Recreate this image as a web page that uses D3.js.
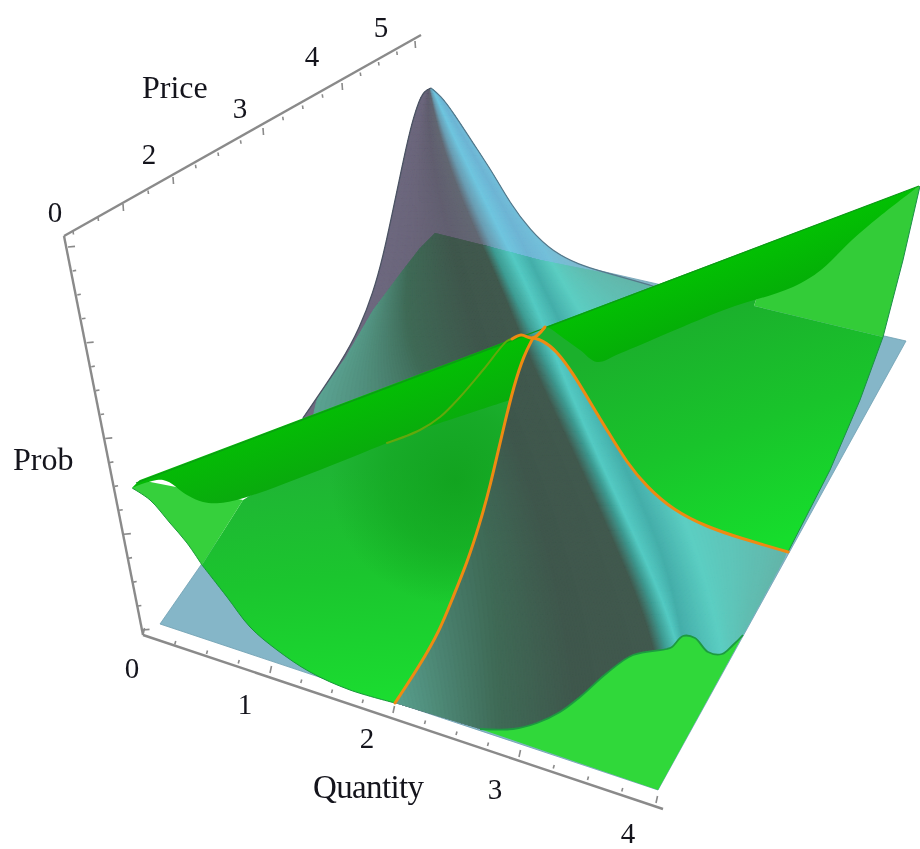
<!DOCTYPE html>
<html>
<head>
<meta charset="utf-8">
<script src="https://cdn.jsdelivr.net/npm/d3@7"></script>
<style>
html,body{margin:0;padding:0;background:#fff}
svg{display:block}
text{font-family:"Liberation Serif","Times New Roman",serif;fill:#14141c}
</style>
</head>
<body>
<div id="chart"></div>
<script>
// ---------- axis data ----------
const quantityTicks = [0,.25,.5,.75,1,1.25,1.5,1.75,2,2.25,2.5,2.75,3,3.25,3.5,3.75,4];
const quantityLabels = [0,1,2,3,4];
const priceTicks = [0,.5,1,1.5,2,2.25,2.5,2.75,3,3.25,3.5,3.75,4,4.25,4.5,4.75,5];
const priceLabels = [0,2,3,4,5];
const probTicks = [0,1,2,3,4,5,6,7,8,9,10,11,12,13,14,15,16];

// ---------- surface data ----------
// Every point is [quantity, prob] on the picture plane: quantity runs along the
// view's horizontal, prob along its vertical (the price shear is folded in).

// price surface mesh: one row per column line, crossing the ridge from left to right
const quantityGrid = [
 [2.24,2.112,2.0,1.912,1.792,1.568,1.248,1.576,1.896,1.992],
 [2.28,2.2,2.168,2.152,2.096,2.136,2.616,2.76,2.816,2.856],
 [2.288,2.28,2.36,2.456,2.576,2.696,3.016,3.256,3.416,3.496],
 [2.296,2.36,2.52,2.696,2.896,3.096,3.44,3.8,4.096,4.216],
 [2.304,2.4,2.592,2.776,2.968,3.224,3.552,3.912,4.2,4.296],
 [2.32,2.464,2.696,2.896,3.112,3.312,3.616,3.992,4.296,4.416],
 [2.344,2.536,2.808,3.032,3.232,3.496,3.792,4.176,4.328,4.456],
 [2.368,2.592,2.88,3.176,3.416,3.736,4.096,4.432,4.632,4.736],
 [2.408,2.68,2.976,3.304,3.688,4.096,5.256,5.256,4.856,4.856]
];
const commonProbRow = [1.3675,1.2625,1.1125,.9875,.85,.6875,.4625,.2125,-.0125,-.25];
const probGrid = [
 [1.3725,1.2625,1.1125,.9875,.85,.6875,.5425,.1875,-.0875,-.1825],
 commonProbRow, commonProbRow, commonProbRow, commonProbRow, commonProbRow, commonProbRow, commonProbRow,
 [1.3625,1.2375,1.0875,.9675,.9175,.8825,.6875,.2375,-.0125,-.25]
];
const ridgeColors  = ["#6e6980","#6b667b","#625f70","#636873","#6b9db2","#70c6df","#6fb5d4","#74c0da","#80b8cc"];
const tintedColors = ["#5aa392","#3f6a56","#3f574c","#41594e","#3f9c93","#55cbc3","#45aeaa","#5ccec2","#63b5a9"];

const silhouetteLeft = [[2.304,1.3675],[2.248,1.36],[2.2,1.33],[2.136,1.2625],[2.072,1.17],[2.0,1.0625],[1.92,.945],[1.84,.855],[1.736,.77],[1.6,.6875],[1.28,.5425]];
const silhouetteRight = [[2.304,1.3675],[2.376,1.35],[2.48,1.3075],[2.64,1.23],[2.8,1.155],[2.936,1.08],[3.096,1.0125],[3.28,.9575],[3.496,.925],[3.656,.91],[4.056,.875],[4.456,.8375]];
const silhouetteBase = [[1.28,.5425],[2.016,-.17],[2.696,-.235],[3.016,-.25],[4.296,-.25],[4.8,0],[5.16,.2075],[4.456,.8375]];

const floorSheet = [[.136,.0275],[1.28,.5425],[2.336,1.005],[6.104,.735],[4.12,-.3875]];
const tintRegion = [[2.336,1.005],[2.72,.975],[3.176,.9375],[3.656,.9075],[4.096,.875],[6.104,.735],[4.12,-.3875],[1.256,-.4125],[1.28,.5425],[1.616,.6925],[1.84,.8125],[2.08,.9125],[2.216,.9675]];

// demand surface (green)
const greenBottomEdge = [[.472,.175],[.672,.095],[.856,.02],[1.072,-.0375],[1.336,-.0925],[1.656,-.1375],[2.016,-.17]];
const orangeLeft = [[2.016,-.17],[2.216,-.075],[2.376,.0125],[2.48,.095],[2.592,.18],[2.696,.28],[2.776,.37],[2.88,.5125],[2.968,.625],[3.048,.7],[3.12,.7425]];
const orangeRight = [[3.12,.7425],[3.192,.7375],[3.304,.7125],[3.44,.655],[3.6,.57],[3.712,.5125],[3.872,.43],[4.032,.37],[4.24,.3125],[4.512,.27],[4.776,.2425],[5.16,.2075]];
const orangeApex = [[2.952,.74],[3.024,.75],[3.12,.7425],[3.216,.77]];
const orangeFaint = [[2.952,.74],[2.912,.735],[2.72,.6625],[2.536,.595],[2.376,.545],[2.216,.5125],[1.952,.48]];
const sectorLeftTop = [[3.12,.7425],[2.912,.735],[.8,.3375]];
const flapLeftEdge = [[-.088,.3675],[.056,.3375],[.216,.28],[.352,.23],[.472,.175]];
const flapLeftClose = [[.8,.3375],[-.024,.3875]];
const bandLeftTop = [[-.088,.3675],[-.024,.3875],[2.912,.735],[3.024,.75],[3.12,.7425],[3.048,.7],[2.936,.5875]];
const bandLeftLower = [[2.936,.5875],[2.216,.5125],[1.952,.48],[1.416,.4125],[.832,.345],[.616,.33],[.48,.3325],[.352,.35],[.16,.3875],[-.088,.3675]];
const greenRightEdge = [[5.16,.2075],[5.496,.4125],[5.736,.5875],[5.92,.745],[6.08,.9375],[6.216,1.1225]];
const flapRightFold = [4.888,.8225];
const bandRightLower = [[3.216,.77],[3.248,.7675],[3.384,.7375],[3.496,.7125],[3.632,.6825],[3.824,.705],[4.648,.8125],[5.2,.87],[5.424,.9125],[5.672,.9875],[5.888,1.045],[6.208,1.1225]];
const sectorUnderBand = [[5.0,.93],[3.9,.8],[3.4,.76],[3.216,.77]];
const flapUnderBand = [[5.0,.93],[5.6,1.0],[6.208,1.1225]];
const ridgeLine = [[-.056,.38],[6.208,1.1225]];
const lowerCurve = [[2.696,-.235],[2.96,-.235],[3.152,-.22],[3.336,-.1925],[3.496,-.155],[3.712,-.095],[3.92,-.05],[4.192,-.035],[4.232,-.03],[4.32,-.0025],[4.416,-.0075],[4.52,-.0425],[4.632,-.0475],[4.72,-.025],[4.8,0]];
const lowerCorner = [4.12,-.3875];

// ---------- scales ----------
const W = 920, H = 849;
const xView = d3.scaleLinear([0,4],[143,643]);
const yView = d3.scaleLinear([0,1],[635,235]);
const pt = ([q,p]) => [xView(q), yView(p)];

const qAxisX = d3.scaleLinear([0,1,2,3,4,4.05],[143,270,393,519,656,663]);
const qAxisY = d3.scaleLinear([0,1,2,3,4,4.05],[635,673,713,757,803,809]);
const pAxisX = d3.scaleLinear([-.2,0,2,3,4,5,5.08],[64,73,173,263,342,415,421]);
const pAxisY = d3.scaleLinear([-.2,0,2,3,4,5,5.08],[236,231,177,128,83,41,35]);
const zAxisX = d3.scaleLinear([-.2,0,16,16.45],[143,142.5,68,64]);
const zAxisY = d3.scaleLinear([-.2,0,16,16.45],[635,630,247,236]);

const svg = d3.select("#chart").append("svg").attr("width",W).attr("height",H).attr("viewBox",[0,0,W,H]);
const defs = svg.append("defs");
defs.append("filter").attr("id","soft").attr("x",0).attr("y",0).attr("width",1).attr("height",1)
  .attr("filterUnits","objectBoundingBox").attr("color-interpolation-filters","sRGB")
  .append("feGaussianBlur").attr("stdDeviation",.7);

function grad(id,x1,y1,x2,y2,stops){
  const g = defs.append("linearGradient").attr("id",id).attr("gradientUnits","userSpaceOnUse")
    .attr("x1",x1).attr("y1",y1).attr("x2",x2).attr("y2",y2);
  stops.forEach(([o,c])=>g.append("stop").attr("offset",o).attr("stop-color",c));
}
grad("gLeft",370,700,345,470,[[0,"#1bdc30"],[.55,"#1bc52e"],[1,"#1fb534"]]);
grad("gRight",770,545,690,320,[[0,"#16dd2c"],[.5,"#19c42b"],[1,"#1bb02c"]]);
grad("gBand",470,345,495,420,[[0,"#02c202"],[1,"#0aa80e"]]);
grad("gBandR",690,265,712,325,[[0,"#02c202"],[1,"#05ac08"]]);
const rg = defs.append("radialGradient").attr("id","gShade").attr("gradientUnits","userSpaceOnUse")
  .attr("cx",455).attr("cy",480).attr("r",125);
rg.append("stop").attr("offset",0).attr("stop-color","#10a01c").attr("stop-opacity",.85);
rg.append("stop").attr("offset",.55).attr("stop-color","#10a01c").attr("stop-opacity",.5);
rg.append("stop").attr("offset",1).attr("stop-color","#10a01c").attr("stop-opacity",0);
grad("gUnder",429,0,436,0,[[0,"#6e6980"],[1,"#80b8cc"]]);

const root = svg.append("g").attr("filter","url(#soft)");
root.append("rect").attr("width",W).attr("height",H).attr("fill","#fff");

const straight = d3.line().x(d=>pt(d)[0]).y(d=>pt(d)[1]);
const smooth = d3.line().x(d=>pt(d)[0]).y(d=>pt(d)[1]).curve(d3.curveCatmullRom.alpha(.5));
const rounded = d3.line().x(d=>pt(d)[0]).y(d=>pt(d)[1]).curve(d3.curveBasis);
const cont = s => "L" + s.slice(1);               // join two path pieces
const joined = (...parts) => parts.map((p,i)=> i? cont(p): p).join("") + "Z";

// ---------- axes ----------
const axes = root.append("g").attr("stroke","#8a8a8a").attr("fill","none");
function axisLine(a,b,fx,fy){
  axes.append("line").attr("x1",fx(a)).attr("y1",fy(a)).attr("x2",fx(b)).attr("y2",fy(b)).attr("stroke-width",2.4);
}
axisLine(0,4.05,qAxisX,qAxisY);
axisLine(-.2,5.08,pAxisX,pAxisY);
axisLine(-.2,16.45,zAxisX,zAxisY);
axes.selectAll(".tq").data(quantityTicks).join("line")
  .attr("x1",d=>qAxisX(d)).attr("y1",d=>qAxisY(d))
  .attr("x2",d=>qAxisX(d)+(Number.isInteger(d)?1.5:1)).attr("y2",d=>qAxisY(d)-(Number.isInteger(d)?7:3.5)).attr("stroke-width",1.6);
axes.selectAll(".tp").data(priceTicks).join("line")
  .attr("x1",d=>pAxisX(d)).attr("y1",d=>pAxisY(d))
  .attr("x2",d=>pAxisX(d)+.5).attr("y2",d=>pAxisY(d)+(Number.isInteger(d)&&d>0?7:3.5)).attr("stroke-width",1.6);
axes.selectAll(".tz").data(probTicks).join("line")
  .attr("x1",d=>zAxisX(d)).attr("y1",d=>zAxisY(d))
  .attr("x2",d=>zAxisX(d)+(d%4===0?7:3.5)).attr("y2",d=>zAxisY(d)-.6).attr("stroke-width",1.6);

const labels = root.append("g");
const qLabelOffset = [[-11,43],[-25,41],[-26,35],[-24,42],[-28,39.5]];
labels.selectAll(".lq").data(quantityLabels).join("text")
  .attr("x",(d,i)=>qAxisX(d)+qLabelOffset[i][0]).attr("y",(d,i)=>qAxisY(d)+qLabelOffset[i][1])
  .attr("text-anchor","middle").attr("font-size",29).text(d=>d);
const pLabelOffset = [[-18,-9],[-24,-13],[-23,-10],[-30,-17],[-34,-4]];
labels.selectAll(".lp").data(priceLabels).join("text")
  .attr("x",(d,i)=>pAxisX(d)+pLabelOffset[i][0]).attr("y",(d,i)=>pAxisY(d)+pLabelOffset[i][1])
  .attr("text-anchor","middle").attr("font-size",29).text(d=>d);
labels.append("text").attr("x",142).attr("y",98).attr("font-size",32).text("Price");
labels.append("text").attr("x",13).attr("y",470).attr("font-size",32).text("Prob");
labels.append("text").attr("x",313).attr("y",798).attr("font-size",33)
  .attr("textLength",111).attr("lengthAdjust","spacing").text("Quantity");

// ---------- floor sheet ----------
const surf = root.append("g");
surf.append("path").attr("d",straight(floorSheet)+"Z").attr("fill","#85b6c8").attr("stroke","#6f9fb2").attr("stroke-width",.8);

// ---------- price surface, painted as strips across the ridge ----------
const outlinePath = joined(rounded(silhouetteLeft), straight(silhouetteBase), rounded(silhouetteRight.slice().reverse()));
defs.append("clipPath").attr("id","clipSurface").append("path").attr("d",outlinePath);
defs.append("clipPath").attr("id","clipTint").append("path").attr("d",straight(tintRegion)+"Z");

surf.append("path").attr("d",outlinePath).attr("fill","url(#gUnder)");

const samples = d3.range(0,1.0001,1/70);
const denseCols = quantityGrid.map((col,c)=>{
  const fu = d3.interpolateBasis(col), fv = d3.interpolateBasis(probGrid[c]);
  return samples.map(s=>[fu(s),fv(s)]);
});
const lineAt = t => {
  const i = Math.min(Math.floor(t), denseCols.length-2), f = t-i;
  return denseCols[i].map((a,k)=>{ const b = denseCols[i+1][k]; return [a[0]+(b[0]-a[0])*f, a[1]+(b[1]-a[1])*f]; });
};
const stripsPerColumn = 28;
const stripData = d3.range(0,(denseCols.length-1)*stripsPerColumn).map(k=>k/stripsPerColumn);
function paintStrips(parent, colors){
  const color = d3.scaleLinear(d3.range(colors.length),colors).interpolate(d3.interpolateRgb);
  parent.selectAll("path").data(stripData).join("path")
    .attr("d",t=> straight(lineAt(t).concat(lineAt(t+1/stripsPerColumn).reverse()))+"Z")
    .attr("fill",t=>color(t+.5/stripsPerColumn)).attr("stroke",t=>color(t+.5/stripsPerColumn)).attr("stroke-width",1);
}
paintStrips(surf.append("g").attr("clip-path","url(#clipSurface)"), ridgeColors);
paintStrips(surf.append("g").attr("clip-path","url(#clipSurface)").append("g").attr("clip-path","url(#clipTint)"), tintedColors);
surf.append("path").attr("d",rounded(silhouetteLeft)).attr("fill","none").attr("stroke","#4c5464").attr("stroke-width",1.3);
surf.append("path").attr("d",rounded(silhouetteRight)).attr("fill","none").attr("stroke","#55788a").attr("stroke-width",1.2);

// ---------- green surface ----------
const green = root.append("g");
// lower right apron
green.append("path").attr("d",joined(smooth(lowerCurve), straight([lowerCorner,lowerCurve[0]])))
  .attr("fill","#30d83a");
green.append("path").attr("d",smooth(lowerCurve)).attr("fill","none").attr("stroke","#1d9a40").attr("stroke-width",1.8);

// left sector
const leftSector = joined(smooth(greenBottomEdge), rounded(orangeLeft), straight(sectorLeftTop), straight([sectorLeftTop[2],greenBottomEdge[0]]));
green.append("path").attr("d",leftSector).attr("fill","url(#gLeft)");
green.append("path").attr("d",smooth(greenBottomEdge)).attr("fill","none").attr("stroke","#17963a").attr("stroke-width",1);
defs.append("clipPath").attr("id","clipLeft").append("path").attr("d",leftSector);
green.append("circle").attr("cx",455).attr("cy",480).attr("r",125).attr("fill","url(#gShade)").attr("clip-path","url(#clipLeft)");
// left flap
green.append("path").attr("d",joined(smooth(flapLeftEdge), straight(flapLeftClose)))
  .attr("fill","#36d03c");
green.append("path").attr("d",smooth(flapLeftEdge)).attr("fill","none").attr("stroke","#1c9a3a").attr("stroke-width",1);
// left band
green.append("path").attr("d",joined(straight(bandLeftTop), smooth(bandLeftLower))).attr("fill","url(#gBand)");

// right sector
const rightLower = bandRightLower.slice().reverse();
const rightSector = joined(rounded(orangeRight), straight([orangeRight[orangeRight.length-1]].concat(greenRightEdge.slice(1,4))), straight([greenRightEdge[3],flapRightFold].concat(sectorUnderBand)));
green.append("path").attr("d",rightSector).attr("fill","url(#gRight)");
// right flap
green.append("path").attr("d",joined(straight([flapRightFold].concat(flapUnderBand)), straight(greenRightEdge.slice(3).reverse())))
  .attr("fill","#33cc38");
// right band
green.append("path").attr("d",joined(straight([bandRightLower[0],ridgeLine[1]]), smooth(rightLower))).attr("fill","url(#gBandR)");

// edges
green.append("path").attr("d",straight(ridgeLine)).attr("fill","none").attr("stroke","#0c9a16").attr("stroke-width",1.2);
green.append("path").attr("d",straight(greenRightEdge)).attr("fill","none").attr("stroke","#1c8f48").attr("stroke-width",1);

// intersection curves
const orange = root.append("g").attr("fill","none").attr("stroke-linecap","round");
orange.append("path").attr("d",smooth(orangeFaint)).attr("stroke","#62a80c").attr("stroke-width",2);
[orangeLeft,orangeRight].forEach(c=>
  orange.append("path").attr("d",rounded(c)).attr("stroke","#ee8a12").attr("stroke-width",3));
orange.append("path").attr("d",smooth(orangeApex)).attr("stroke","#ee8a12").attr("stroke-width",3);
</script>
</body>
</html>
